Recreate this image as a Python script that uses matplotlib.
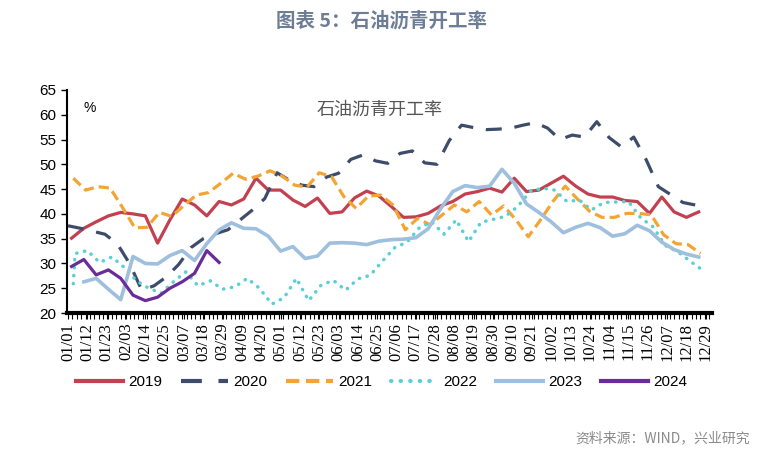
import numpy as np
import matplotlib
matplotlib.use("Agg")
import matplotlib.pyplot as plt
from matplotlib.ticker import MultipleLocator
from matplotlib.font_manager import FontProperties

plt.rcParams['font.family'] = ['Liberation Sans', 'Noto Sans CJK SC', 'DejaVu Sans']

# weekly readings, x = day of year (0 = 01/01)
start_2019 = 2
v2019 = [35.1, 37.1, 38.4, 39.6, 40.3, 40.0, 39.6, 34.1, 38.8, 43.0,
         41.8, 39.6, 42.5, 41.8, 43.0, 47.2, 44.8, 44.8, 42.8, 41.5,
         43.2, 40.1, 40.4, 43.2, 44.6, 43.6, 41.5, 39.3, 39.4, 40.1,
         41.6, 42.5, 44.0, 44.5, 45.2, 44.4, 47.2, 44.5, 44.8, 46.2,
         47.6, 45.6, 44.0, 43.4, 43.4, 42.7, 42.5, 40.1, 43.4, 40.4,
         39.3, 40.4]

start_2020 = 0
v2020 = [37.6, 37.1, 36.5, 35.9, 34.0, 30.0, 24.6, 25.5, 27.3, 29.8,
         33.2, 35.0, 36.0, 36.8, 38.8, 40.8, 43.1, 48.3, 46.8, 45.8,
         45.5, 47.4, 48.2, 51.0, 51.9, 50.7, 50.2, 52.2, 52.7, 50.3,
         50.0, 54.8, 57.9, 57.4, 57.0, 57.1, 57.3, 57.9, 58.4, 57.3,
         55.0, 55.9, 55.5, 58.6, 55.4, 53.5, 55.5, 51.0, 45.5, 43.9,
         42.3, 41.8]

start_2021 = 3
v2021 = [47.2, 44.8, 45.5, 45.2, 41.3, 37.2, 37.3, 40.3, 39.5, 41.7,
         43.8, 44.3, 46.2, 48.2, 47.0, 47.6, 48.7, 47.6, 45.8, 45.4,
         48.3, 47.5, 43.5, 41.1, 43.6, 43.8, 41.8, 36.8, 39.1, 37.8,
         39.8, 41.8, 40.4, 42.5, 39.8, 41.6, 38.8, 35.4, 38.8, 42.5,
         45.6, 43.0, 40.5, 39.3, 39.3, 40.1, 40.1, 39.8, 35.8, 34.0,
         33.8, 32.0]

first_2022 = (3, 25.9)
start_2022 = 4
v2022 = [32.0, 32.6, 30.2, 31.3, 29.2, 26.5, 25.0, 24.0, 26.3, 28.3,
         25.5, 26.5, 24.8, 25.3, 27.0, 25.0, 21.8, 23.1, 27.0, 22.5,
         25.6, 26.6, 24.6, 26.9, 27.6, 30.5, 33.2, 34.3, 37.2, 38.4,
         35.9, 38.8, 34.4, 38.3, 38.9, 39.5, 41.5, 44.5, 45.2, 44.8,
         42.5, 42.8, 40.8, 42.3, 42.4, 42.5, 39.2, 37.4, 33.6, 32.4,
         30.5, 28.7]

start_2023 = 9
v2023 = [26.3, 27.0, 24.8, 22.7, 31.4, 30.0, 29.9, 31.6, 32.6, 30.6,
         34.0, 36.8, 38.2, 37.1, 37.0, 35.5, 32.5, 33.4, 31.0, 31.5,
         34.1, 34.2, 34.1, 33.8, 34.5, 34.8, 34.9, 35.2, 37.0, 41.0,
         44.5, 45.7, 45.3, 45.6, 49.0, 46.2, 42.0, 40.3, 38.4, 36.2,
         37.3, 38.1, 37.2, 35.5, 36.0, 37.7, 36.6, 34.3, 32.8, 31.9,
         31.3]

start_2024 = 2
v2024 = [29.4, 30.8, 27.7, 28.7, 27.0, 23.6, 22.5, 23.2, 25.0, 26.3,
         28.0, 32.6, 30.2]

tick_labels = ['01/01', '01/12', '01/23', '02/03', '02/14', '02/25', '03/07',
               '03/18', '03/29', '04/09', '04/20', '05/01', '05/12', '05/23',
               '06/03', '06/14', '06/25', '07/06', '07/17', '07/28', '08/08',
               '08/19', '08/30', '09/10', '09/21', '10/02', '10/13', '10/24',
               '11/04', '11/15', '11/26', '12/07', '12/18', '12/29']


def weekly(start, vals):
    return start + 7 * np.arange(len(vals))


fig = plt.figure(figsize=(7.63, 4.59), dpi=100)
ax = fig.add_axes([0.088, 0.318, 0.845, 0.486])

lw = 2.3
ax.plot(weekly(start_2019, v2019), v2019, color='#C2404F', lw=lw, label='2019')
ax.plot(weekly(start_2020, v2020), v2020, color='#3D4C6A', lw=lw,
        dashes=(5, 4), label='2020')
ax.plot(weekly(start_2021, v2021), v2021, color='#F2A535', lw=lw,
        dashes=(3.2, 1.6), label='2021')
x22 = np.concatenate([[first_2022[0]], weekly(start_2022, v2022)])
y22 = [first_2022[1]] + v2022
ax.plot(x22, y22, color='#5ACFD6', lw=lw + 0.2, dashes=(0.1, 2.2),
        dash_capstyle='round', label='2022')
ax.plot(weekly(start_2023, v2023), v2023, color='#9EBFDE', lw=lw + 0.3, label='2023')
ax.plot(weekly(start_2024, v2024), v2024, color='#6A2C98', lw=lw, label='2024')

ax.set_ylim(20, 65)
ax.set_xlim(-0.5, 366.5)
ax.yaxis.set_major_locator(MultipleLocator(5))
ax.set_xticks(np.arange(len(tick_labels)) * 11)
serif = FontProperties(family='Liberation Serif', size=12)
ax.set_xticklabels(tick_labels, rotation=90, fontproperties=serif)
ax.xaxis.set_minor_locator(MultipleLocator(2.5))
ax.tick_params(axis='x', which='both', direction='out', length=4, width=0.8, pad=3)
ax.tick_params(axis='y', direction='out', length=4, width=1, labelsize=11)

for s in ['top', 'right']:
    ax.spines[s].set_visible(False)
ax.spines['left'].set_linewidth(1.5)
ax.spines['bottom'].set_linewidth(3)

ax.text(0.025, 0.95, '%', transform=ax.transAxes, fontsize=10, va='top')
ax.text(0.485, 0.95, '石油沥青开工率', transform=ax.transAxes, ha='center', va='top',
        fontsize=13, color='#555555', family=['Noto Sans CJK SC'], fontweight='light')

fig.text(0.5, 0.955, '图表 5：石油沥青开工率', ha='center', va='center', fontsize=14,
         fontweight='bold', color='#6D7D96', family=['Noto Sans CJK SC', 'DejaVu Sans'])

leg = fig.legend(loc='center', bbox_to_anchor=(0.5, 0.168), ncol=6, frameon=False,
                 fontsize=11, handlelength=3.1, handletextpad=0.3, columnspacing=1.25)
for line in leg.get_lines():
    line.set_linewidth(3)

fig.text(0.983, 0.045, '资料来源：WIND，兴业研究', ha='right', va='center', fontsize=10,
         color='#8A8A8A', family=['Noto Sans CJK SC', 'DejaVu Sans'])

fig.savefig('out.png', dpi=100)
